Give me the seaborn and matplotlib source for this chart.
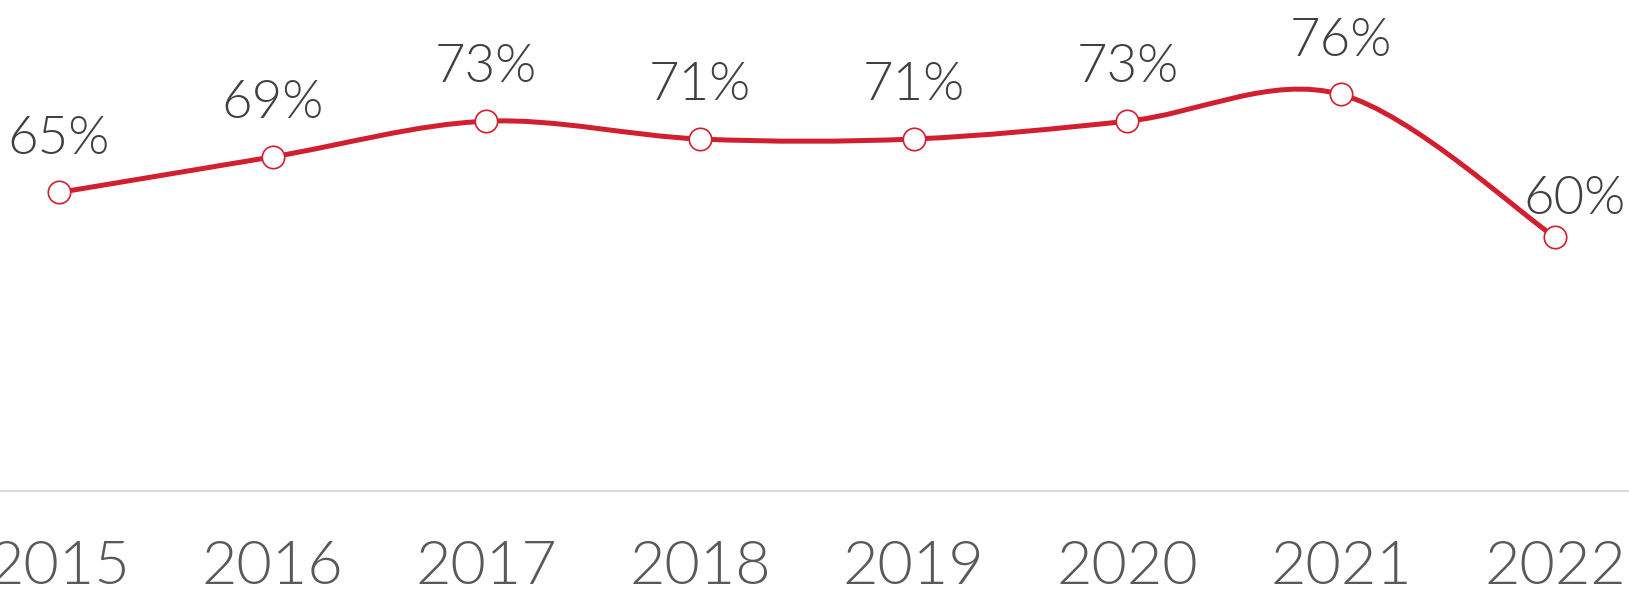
import numpy as np
import matplotlib
matplotlib.use('Agg')
import matplotlib.pyplot as plt
from matplotlib.path import Path
from matplotlib.patches import PathPatch
import seaborn as sns

# data
years = ['2015', '2016', '2017', '2018', '2019', '2020', '2021', '2022']
rates = [65, 69, 73, 71, 71, 73, 76, 60]
labels = [f'{v}%' for v in rates]

red = '#D11F2F'

sns.set_style('white')
plt.rcParams['font.family'] = ['Lato', 'DejaVu Sans']

fig = plt.figure(figsize=(16.29, 6.02), dpi=100)
ax = fig.add_axes([0, 111 / 602, 1, 491 / 602])

x = np.arange(len(years))
y = np.array(rates, dtype=float)

# smoothed line like excel: bezier segments through the points
verts = [(x[0], y[0])]
codes = [Path.MOVETO]
n = len(x)
for i in range(n - 1):
    p0 = np.array([x[max(i - 1, 0)], y[max(i - 1, 0)]])
    p1 = np.array([x[i], y[i]])
    p2 = np.array([x[i + 1], y[i + 1]])
    p3 = np.array([x[min(i + 2, n - 1)], y[min(i + 2, n - 1)]])
    c1 = p1 + (p2 - p0) / 6
    c2 = p2 - (p3 - p1) / 6
    verts += [tuple(c1), tuple(c2), tuple(p2)]
    codes += [Path.CURVE4] * 3
ax.add_patch(PathPatch(Path(verts, codes), facecolor='none', edgecolor=red,
                       lw=3.6, capstyle='round', zorder=2))

sns.scatterplot(x=x, y=y, ax=ax, s=260, color='white', edgecolor=red,
                linewidth=1.2, zorder=3)

for i, (v, lab) in enumerate(zip(rates, labels)):
    off = (0, 28) if i < n - 1 else (14, 16.5)
    ax.annotate(lab, (i, v), xytext=off, textcoords='offset points',
                ha='center', va='baseline', fontsize=38, color='#404040',
                fontweight=300)

ax.set_xlim(-0.276, 7.347)
ax.set_ylim(31.5, 86.6)
ax.set_xticks(x)
ax.set_xticklabels(years, fontsize=44, color='#595959', fontweight=300)
ax.set_yticks([])
ax.tick_params(axis='x', length=0, pad=35)
for s in ['top', 'left', 'right']:
    ax.spines[s].set_visible(False)
ax.spines['bottom'].set_color('#D9D9D9')
ax.spines['bottom'].set_linewidth(1.5)
ax.set_xlabel('')
ax.set_ylabel('')

fig.savefig('out.png', dpi=100)
